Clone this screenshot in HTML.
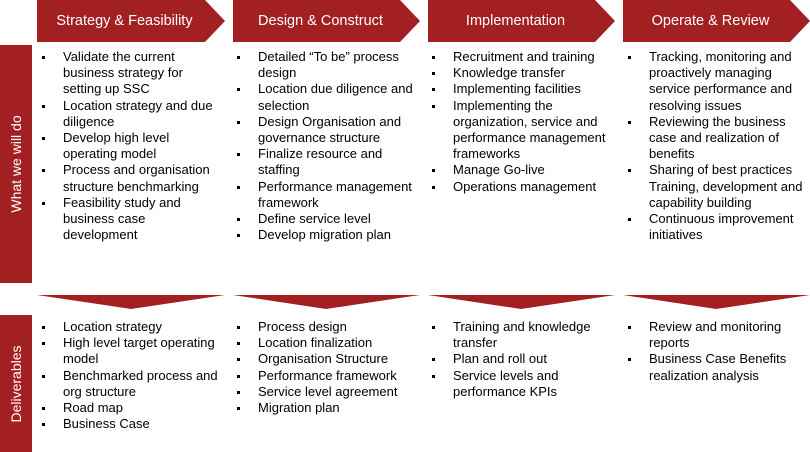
<!DOCTYPE html>
<html><head><meta charset="utf-8"><style>
body{margin:0;width:810px;height:452px;position:relative;background:#fff;font-family:"Liberation Sans",Arial,sans-serif;overflow:hidden}
.h{position:absolute;top:0;height:42px;color:#fff;font-size:14.5px;line-height:42px;text-align:center}
.h span{position:absolute;left:0;width:175px;text-align:center}
ul{position:absolute;margin:0;padding:0;list-style:none;font-size:13px;line-height:16.2px;color:#000;white-space:nowrap}
li{position:relative;padding-left:26px}
li:before{content:"";position:absolute;left:5px;top:7px;width:3px;height:3px;background:#000}
.side{position:absolute;left:0;width:32px;background:#A21F22}
.side div{position:absolute;left:16px;top:50%;transform:translate(-50%,-50%) rotate(-90deg);color:#fff;font-size:14px;white-space:nowrap}
</style></head><body>
<svg width="810" height="452" style="position:absolute;left:0;top:0">
<g fill="#A21F22">
<polygon points="37,0 205,0 225,21 205,42 37,42"/>
<polygon points="233,0 400,0 420,21 400,42 233,42"/>
<polygon points="428,0 595,0 615,21 595,42 428,42"/>
<polygon points="623,0 790,0 810,21 790,42 623,42"/>
<polygon points="37,295 225,295 131,309"/>
<polygon points="233,295 420,295 326,309"/>
<polygon points="428,295 615,295 521,309"/>
<polygon points="623,295 810,295 716,309"/>
</g></svg>
<div class="h" style="left:37px;width:175px">Strategy &amp; Feasibility</div>
<div class="h" style="left:233px;width:175px">Design &amp; Construct</div>
<div class="h" style="left:428px;width:175px">Implementation</div>
<div class="h" style="left:623px;width:175px">Operate &amp; Review</div>
<div class="side" style="top:45px;height:238px"><div>What we will do</div></div>
<div class="side" style="top:315px;height:137px"><div>Deliverables</div></div>

<ul style="left:37px;top:49px">
<li>Validate the current<br>business strategy for<br>setting up SSC</li>
<li>Location strategy and due<br>diligence</li>
<li>Develop high level<br>operating model</li>
<li>Process and organisation<br>structure benchmarking</li>
<li>Feasibility study and<br>business case<br>development</li>
</ul>
<ul style="left:232px;top:49px">
<li>Detailed “To be” process<br>design</li>
<li>Location due diligence and<br>selection</li>
<li>Design Organisation and<br>governance structure</li>
<li>Finalize resource and<br>staffing</li>
<li>Performance management<br>framework</li>
<li>Define service level</li>
<li>Develop migration plan</li>
</ul>
<ul style="left:427px;top:49px">
<li>Recruitment and training</li>
<li>Knowledge transfer</li>
<li>Implementing facilities</li>
<li>Implementing the<br>organization, service and<br>performance management<br>frameworks</li>
<li>Manage Go-live</li>
<li>Operations management</li>
</ul>
<ul style="left:623px;top:49px">
<li>Tracking, monitoring and<br>proactively managing<br>service performance and<br>resolving issues</li>
<li>Reviewing the business<br>case and realization of<br>benefits</li>
<li>Sharing of best practices<br>Training, development and<br>capability building</li>
<li>Continuous improvement<br>initiatives</li>
</ul>

<ul style="left:37px;top:319px">
<li>Location strategy</li>
<li>High level target operating<br>model</li>
<li>Benchmarked process and<br>org structure</li>
<li>Road map</li>
<li>Business Case</li>
</ul>
<ul style="left:232px;top:319px">
<li>Process design</li>
<li>Location finalization</li>
<li>Organisation Structure</li>
<li>Performance framework</li>
<li>Service level agreement</li>
<li>Migration plan</li>
</ul>
<ul style="left:427px;top:319px">
<li>Training and knowledge<br>transfer</li>
<li>Plan and roll out</li>
<li>Service levels and<br>performance KPIs</li>
</ul>
<ul style="left:623px;top:319px">
<li>Review and monitoring<br>reports</li>
<li>Business Case Benefits<br>realization analysis</li>
</ul>
</body></html>
